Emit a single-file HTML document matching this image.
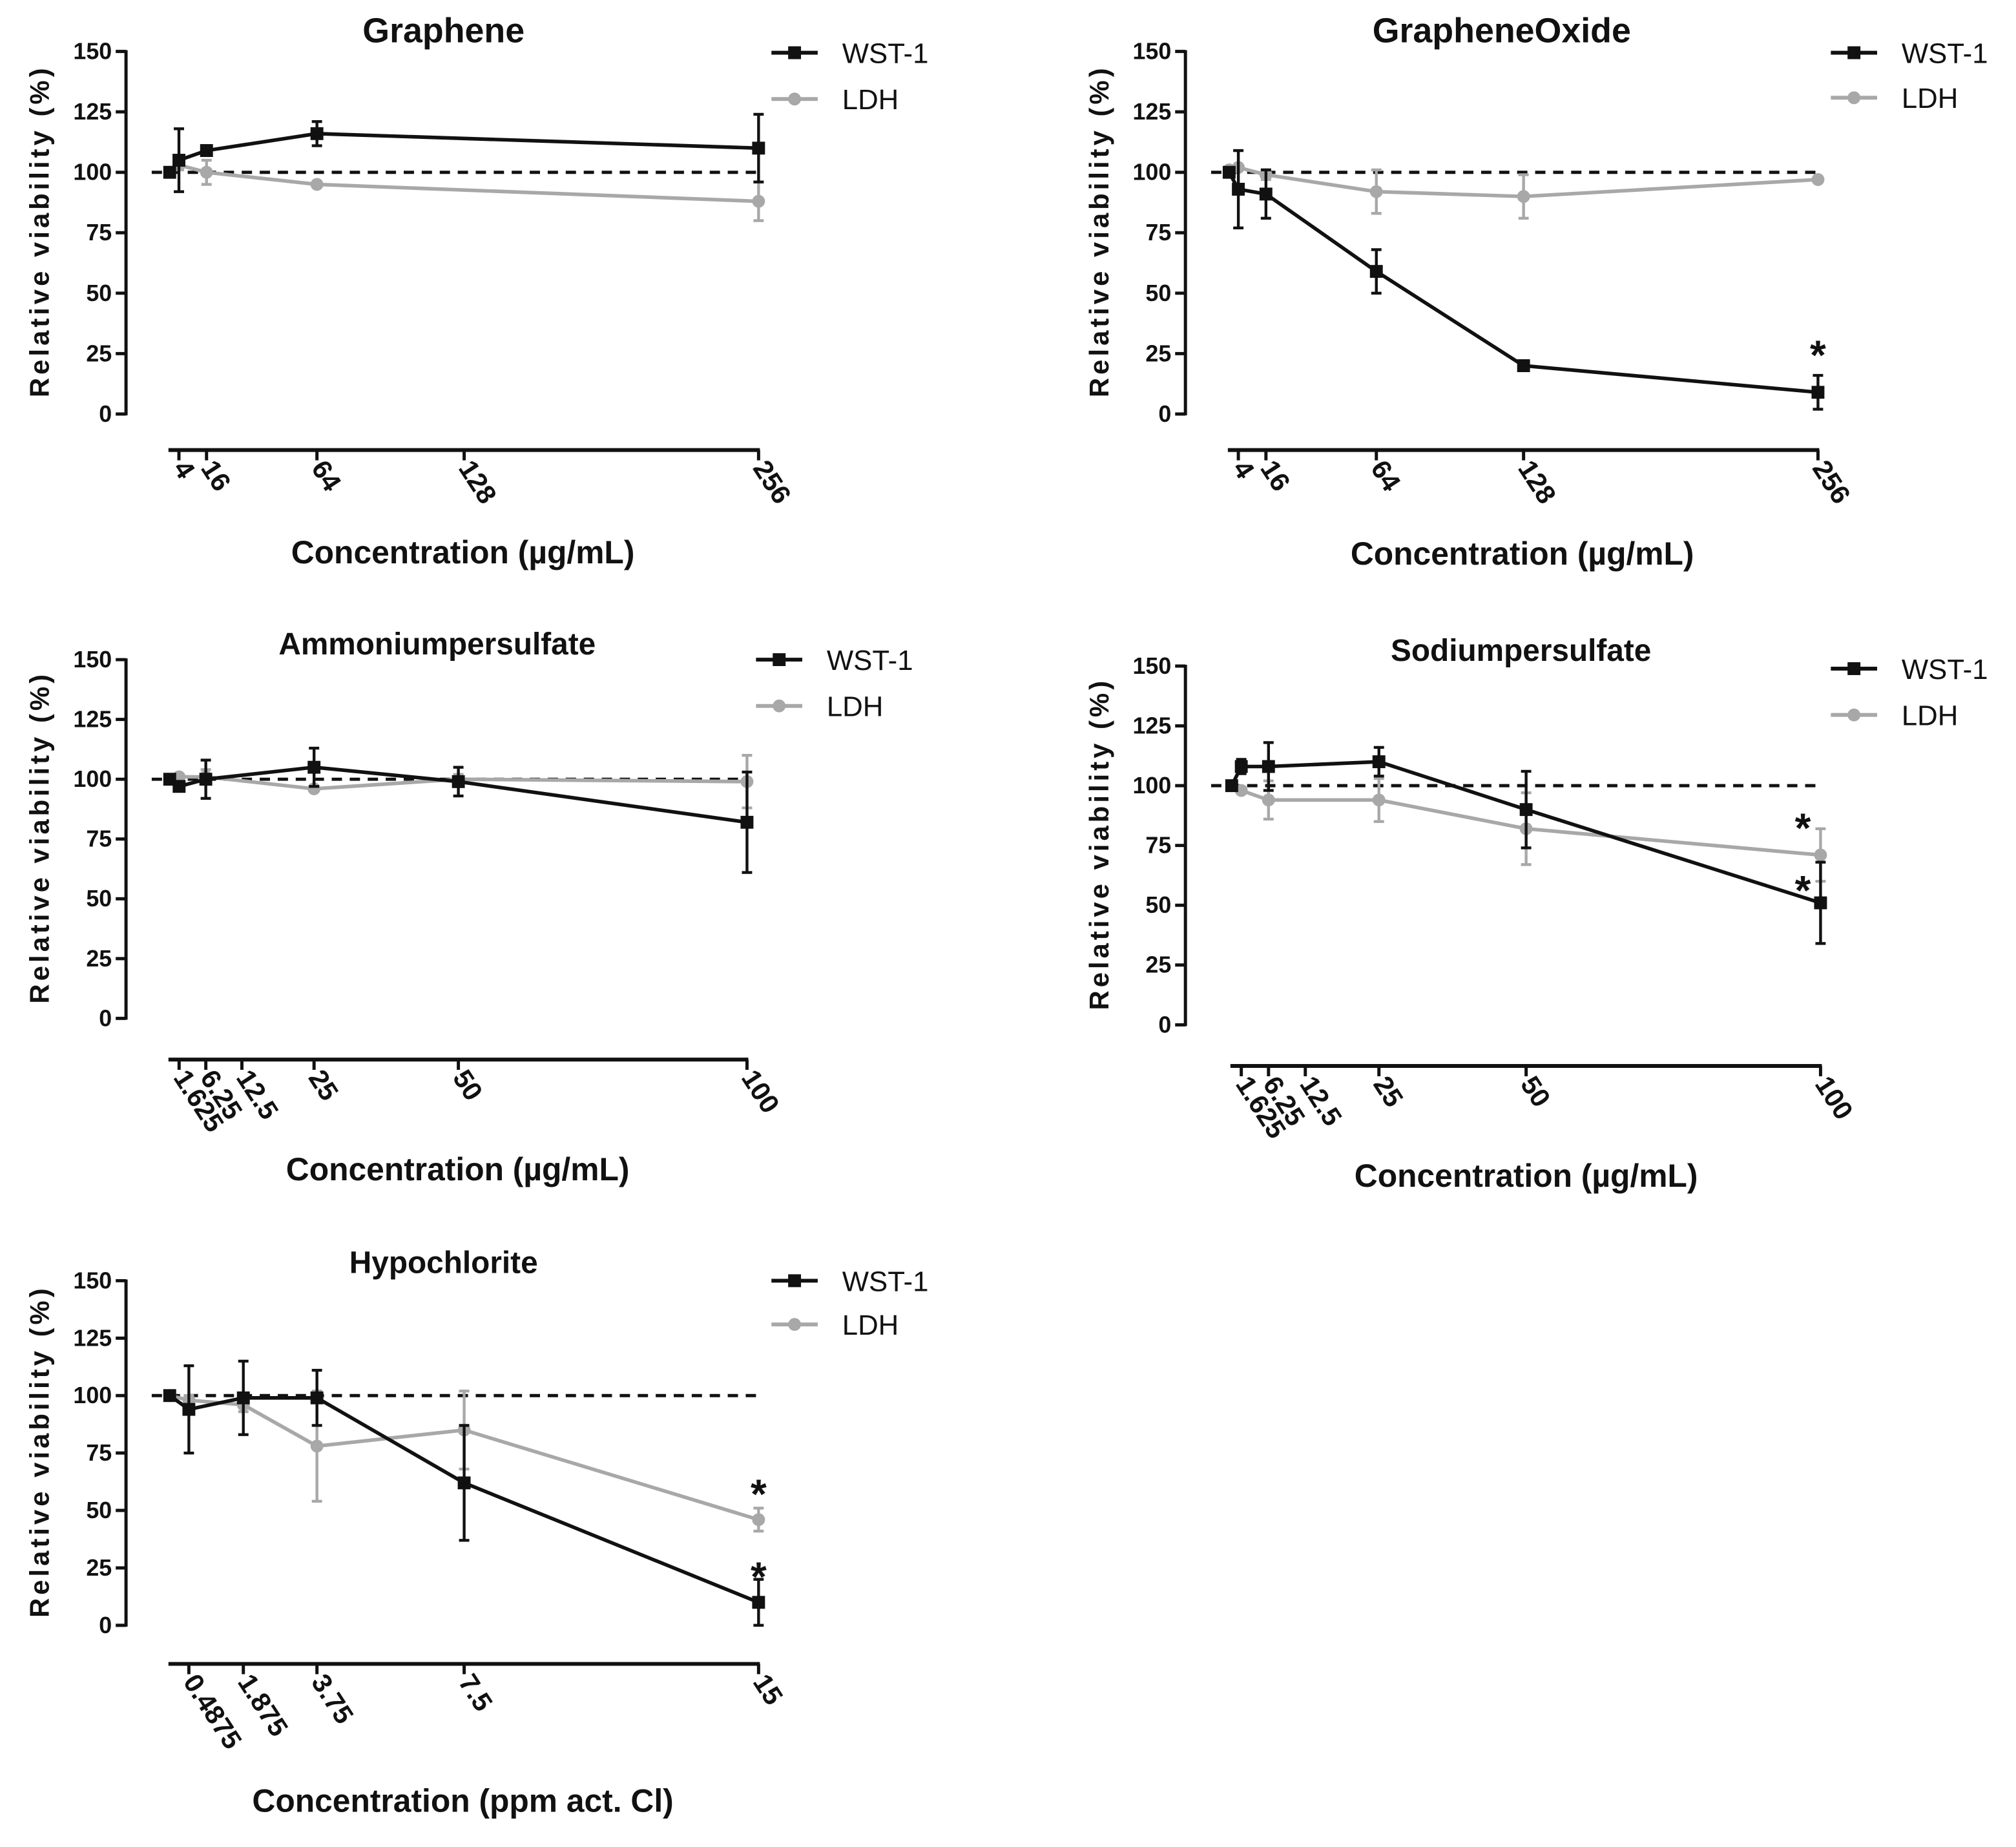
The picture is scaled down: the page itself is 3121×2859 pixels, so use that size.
<!DOCTYPE html>
<html><head><meta charset="utf-8"><style>
html,body{margin:0;padding:0;background:#fff}
svg{display:block}
text{font-family:"Liberation Sans Narrow","Liberation Sans",sans-serif;font-weight:bold;fill:#111}
.yt{font-family:"Liberation Sans",sans-serif;font-size:21px}
.leg{font-family:"Liberation Sans Narrow","Liberation Sans",sans-serif;font-weight:normal;font-size:22px}
</style></head><body>
<svg id="fig" width="3121" height="2859" viewBox="0 0 1568 1436.4" xmlns="http://www.w3.org/2000/svg"></svg>
<script>
// ---- Graphene ----
const grX=[0,4,16,64,256];
const grTicks=[4,16,64,128,256];
const grTickLabels=["4","16","64","128","256"];
const grWst=[100,105,109,116,110];
const grWstErr=[0,13,2,5,14];
const grLdh=[100,103,100,95,88];
const grLdhErr=[0,2,5,1,8];
// ---- GrapheneOxide ----
const goX=[0,4,16,64,128,256];
const goTicks=[4,16,64,128,256];
const goTickLabels=["4","16","64","128","256"];
const goWst=[100,93,91,59,20,9];
const goWstErr=[0,16,10,9,2,7];
const goLdh=[101,102,99,92,90,97];
const goLdhErr=[0,7,2,9,9,1];
// ---- Ammoniumpersulfate ----
const amX=[0,1.625,6.25,25,50,100];
const amTicks=[1.625,6.25,12.5,25,50,100];
const amTickLabels=["1.625","6.25","12.5","25","50","100"];
const amWst=[100,97,100,105,99,82];
const amWstErr=[0,2,8,8,6,21];
const amLdh=[100,101,101,96,100,99];
const amLdhErr=[0,1,3,1,2,11];
// ---- Sodiumpersulfate ----
const soX=[0,1.625,6.25,25,50,100];
const soTicks=[1.625,6.25,12.5,25,50,100];
const soTickLabels=["1.625","6.25","12.5","25","50","100"];
const soWst=[100,108,108,110,90,51];
const soWstErr=[0,3,10,6,16,17];
const soLdh=[100,98,94,94,82,71];
const soLdhErr=[0,1,8,9,15,11];
// ---- Hypochlorite ----
const hyX=[0,0.4875,1.875,3.75,7.5,15];
const hyTicks=[0.4875,1.875,3.75,7.5,15];
const hyTickLabels=["0.4875","1.875","3.75","7.5","15"];
const hyWst=[100,94,99,99,62,10];
const hyWstErr=[0,19,16,12,25,10];
const hyLdh=[100,98,96,78,85,46];
const hyLdhErr=[0,2,3,24,17,5];
const yTicks=[0,25,50,75,100,125,150];

const NS="http://www.w3.org/2000/svg";
const svg=document.getElementById('fig');
function mk(tag,attrs,parent){const e=document.createElementNS(NS,tag);for(const k in attrs)e.setAttribute(k,attrs[k]);(parent||svg).appendChild(e);return e;}
const BLK="#111",GRY="#a8a8a8";

function panel(p){
  const g=mk('g',{});
  
  
  const sy=v=>p.y0-(v/150)*(p.y0-p.y150);
  const sx=v=>p.x0+(v/p.xmax)*(p.x1-p.x0);
  const t=mk('text',{x:p.tx,y:p.ty,'text-anchor':'middle','font-size':p.tfs||27},g);t.textContent=p.title;
  
  
  const ya=mk('g',{},g);
  
  
  mk('line',{x1:p.ax,y1:sy(150)-1,x2:p.ax,y2:sy(0)+1,stroke:BLK,'stroke-width':2.5},ya);
  yTicks.forEach(v=>{
    mk('line',{x1:p.ax-8,y1:sy(v),x2:p.ax,y2:sy(v),stroke:BLK,'stroke-width':2.5},ya);
    const l=mk('text',{x:p.ax-11,y:sy(v)+6,'text-anchor':'end','font-size':18},ya);l.textContent=v;
    
    
  });
  const ym=(sy(0)+sy(150))/2;
  const yg=mk('g',{transform:`translate(${p.ax-60},${ym}) rotate(-90)`},g);
  const yt=mk('text',{x:-128,y:0,class:'yt',textLength:256,lengthAdjust:'spacing'},yg);yt.textContent="Relative viability (%)";
  
  
  const xa=mk('g',{},g);
  
  
  mk('line',{x1:p.x0-1,y1:p.xy,x2:p.x1+1,y2:p.xy,stroke:BLK,'stroke-width':3},xa);
  p.ticks.forEach((v,i)=>{
    mk('line',{x1:sx(v),y1:p.xy,x2:sx(v),y2:p.xy+8,stroke:BLK,'stroke-width':2.5},xa);
    const l=mk('text',{x:0,y:0,'font-size':21,transform:`translate(${sx(v)-5},${p.xy+14}) rotate(57)`},xa);l.textContent=p.tickLabels[i];
    
    
  });
  const xt=mk('text',{x:p.xtx,y:p.xty,'text-anchor':'middle','font-size':25},g);xt.textContent=p.xtitle;
  
  
  const d=mk('line',{x1:p.ax+20,y1:sy(100),x2:p.dashEnd,y2:sy(100),stroke:BLK,'stroke-width':2.5,'stroke-dasharray':'8,6'},g);
  
  
  [[p.ldh,p.ldhErr,GRY,'ldh'],[p.wst,p.wstErr,BLK,'wst-1']].forEach(([vals,errs,col,nm])=>{
    const s=mk('g',{},g);
    
    
    const pts=vals.map((v,i)=>sx(p.xs[i])+','+sy(v)).join(' ');
    mk('polyline',{points:pts,fill:'none',stroke:col,'stroke-width':2.8},s);
    vals.forEach((v,i)=>{
      const x=sx(p.xs[i]),e=errs[i];
      if(e>0){
        const eb=mk('path',{d:`M${x},${sy(v-e)}V${sy(v+e)}M${x-4},${sy(v+e)}H${x+4}M${x-4},${sy(v-e)}H${x+4}`,stroke:col,'stroke-width':2.2,fill:'none'},s);
        
        
      }
      let m;
      if(nm==='ldh') m=mk('circle',{cx:x,cy:sy(v),r:5,fill:col},s);
      else m=mk('rect',{x:x-5,y:sy(v)-5,width:10,height:10,fill:col},s);
      
      
    });
  });
  (p.stars||[]).forEach(st=>{
    const s=mk('text',{x:sx(st[0]),y:sy(st[1])+16,'text-anchor':'middle','font-size':32,'font-weight':'normal'},g);s.textContent='*';
    
    
  });
  const lg=mk('g',{},g);
  
  
  [['WST-1',BLK,0],['LDH',GRY,p.legGap]].forEach(([lab,col,dy])=>{
    const e=mk('g',{},lg);
    
    
    const yy=p.ly+dy;
    mk('line',{x1:p.lx,y1:yy,x2:p.lx+36,y2:yy,stroke:col,'stroke-width':3},e);
    if(lab==='LDH') mk('circle',{cx:p.lx+18,cy:yy,r:5,fill:col},e);
    else mk('rect',{x:p.lx+13,y:yy-5,width:10,height:10,fill:col},e);
    const tx=mk('text',{x:p.lx+55,y:yy+8,class:'leg'},e);tx.textContent=lab;
  });
}

panel({name:'graphene',title:'Graphene',tx:345,ty:33,ax:98,y150:40,y0:322,x0:132,x1:590,xmax:256,xy:350,
  ticks:grTicks,tickLabels:grTickLabels,xs:grX,wst:grWst,wstErr:grWstErr,ldh:grLdh,ldhErr:grLdhErr,
  xtitle:'Concentration (µg/mL)',xtx:360,xty:438,dashEnd:592,lx:600,ly:41,legGap:36});
panel({name:'graphene-oxide',title:'GrapheneOxide',tx:1168,ty:33,ax:922,y150:40,y0:322,x0:956,x1:1414,xmax:256,xy:350,
  ticks:goTicks,tickLabels:goTickLabels,xs:goX,wst:goWst,wstErr:goWstErr,ldh:goLdh,ldhErr:goLdhErr,
  xtitle:'Concentration (µg/mL)',xtx:1184,xty:439,dashEnd:1414,lx:1424,ly:41,legGap:35,stars:[[256,27]]});
panel({name:'ammoniumpersulfate',title:'Ammoniumpersulfate',tfs:24,tx:340,ty:509,ax:98,y150:513,y0:792,x0:132,x1:581,xmax:100,xy:824,
  ticks:amTicks,tickLabels:amTickLabels,xs:amX,wst:amWst,wstErr:amWstErr,ldh:amLdh,ldhErr:amLdhErr,
  xtitle:'Concentration (µg/mL)',xtx:356,xty:918,dashEnd:582,lx:588,ly:513,legGap:36});
panel({name:'sodiumpersulfate',title:'Sodiumpersulfate',tfs:24,tx:1183,ty:514,ax:922,y150:518,y0:797,x0:958,x1:1416,xmax:100,xy:829,
  ticks:soTicks,tickLabels:soTickLabels,xs:soX,wst:soWst,wstErr:soWstErr,ldh:soLdh,ldhErr:soLdhErr,
  xtitle:'Concentration (µg/mL)',xtx:1187,xty:923,dashEnd:1418,lx:1424,ly:520,legGap:36,stars:[[97,85],[97,59]]});
panel({name:'hypochlorite',title:'Hypochlorite',tfs:24,tx:345,ty:990,ax:98,y150:996,y0:1264,x0:132,x1:590,xmax:15,xy:1294,
  ticks:hyTicks,tickLabels:hyTickLabels,xs:hyX,wst:hyWst,wstErr:hyWstErr,ldh:hyLdh,ldhErr:hyLdhErr,
  xtitle:'Concentration (ppm act. Cl)',xtx:360,xty:1409,dashEnd:590,lx:600,ly:996,legGap:34,stars:[[15,60],[15,24]]});
</script>
</body></html>
